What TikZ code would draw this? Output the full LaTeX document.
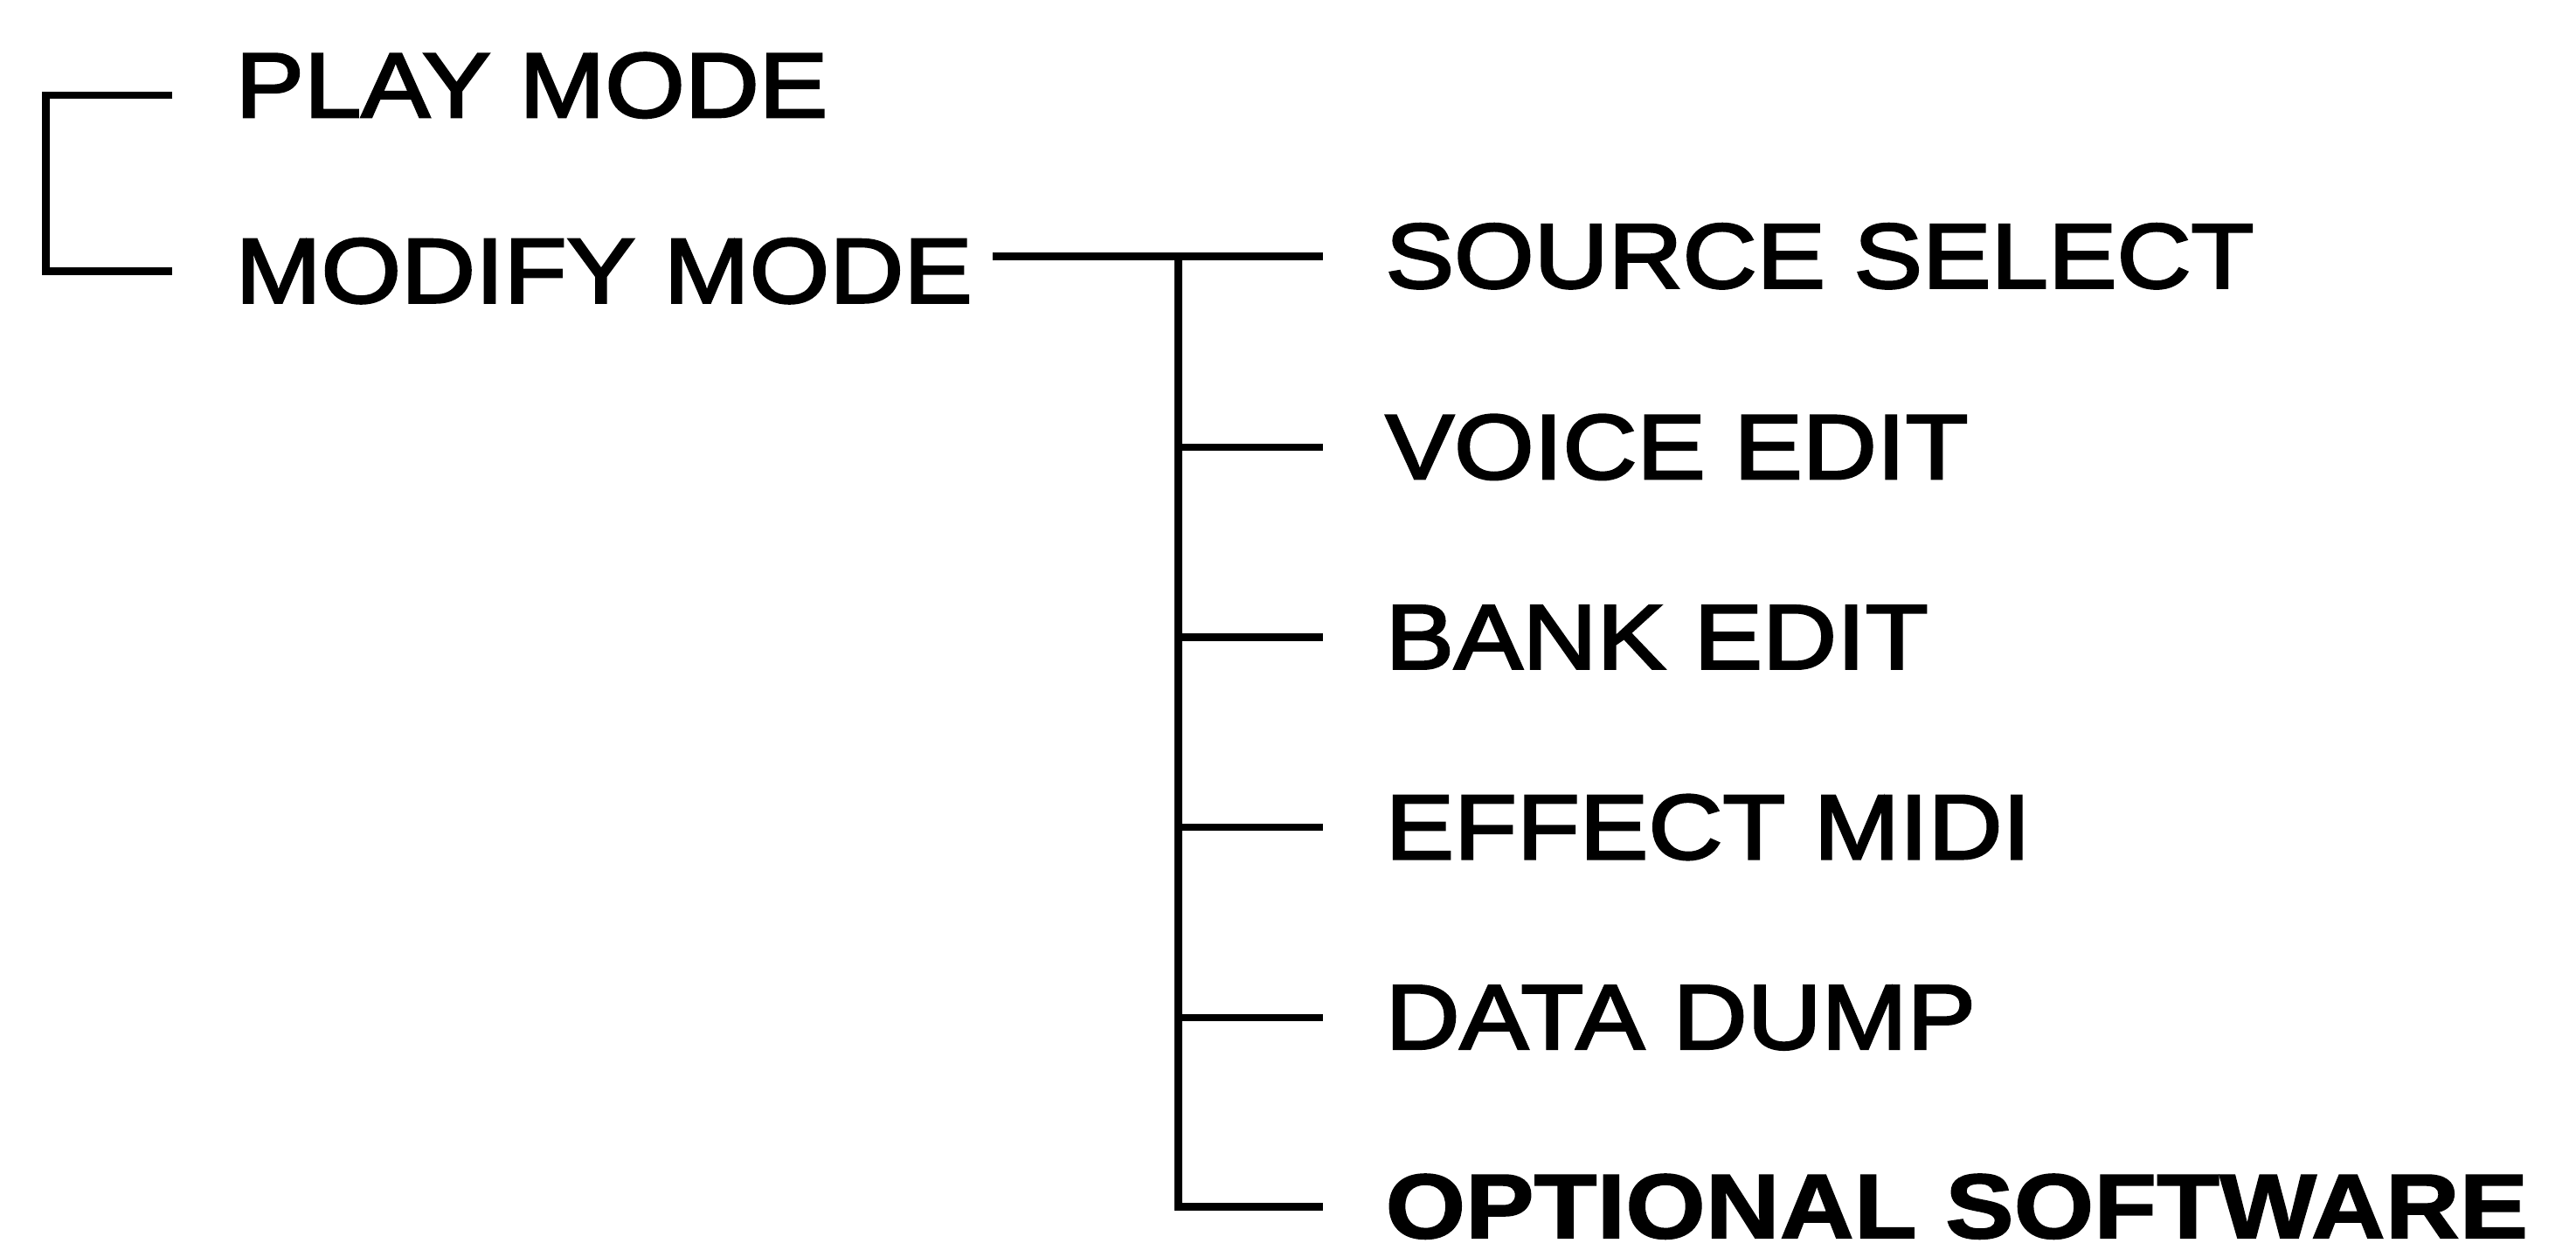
\documentclass[tikz,border=0pt]{standalone}
\usepackage{fontspec}
\setmainfont[FakeStretch=1.12,FakeBold=2.6]{Liberation Sans}
\newfontfamily\heavyfont[FakeStretch=1.12,FakeBold=1.6]{Liberation Sans Bold}
\usepackage{xcolor}
\usepackage{tikz}
\usetikzlibrary{positioning, calc}
\definecolor{mdblack}{HTML}{000000}

\begin{document}
\begin{tikzpicture}[
  node distance=1.52cm,
  modeitem/.style={
    inner sep=0pt, anchor=west, text=mdblack,
    font=\fontsize{31.8}{36}\selectfont
  },
  link/.style={line width=2.6pt, color=mdblack},
]
\useasboundingbox (0,0) rectangle (31.36,-15.22);

\node[modeitem] (play) at (2.86,-1.04) {PLAY MODE};
\node[modeitem] (modify) at (2.86,-3.30) {MODIFY MODE};

\node[modeitem] (src) at (16.86,-3.12) {SOURCE SELECT};
\node[modeitem, below=of src.south west, anchor=north west] (voice) {VOICE EDIT};
\node[modeitem, below=of voice.south west, anchor=north west] (bank) {BANK EDIT};
\node[modeitem, below=of bank.south west, anchor=north west] (effect) {EFFECT MIDI};
\node[modeitem, below=of effect.south west, anchor=north west] (dump) {DATA DUMP};
\node[modeitem, below=1.5cm of dump.south west, anchor=north west,
  font=\fontsize{31.8}{36}\heavyfont] (opt) {OPTIONAL SOFTWARE};

% bracket joining the two modes
\draw[link] ([xshift=-0.76cm,yshift=-0.12cm]play.west) -- ++(-1.54,0)
  |- ([xshift=-0.76cm]modify.west);

% modify mode tree
\coordinate (jn) at ($(modify.east |- src.west)+(2.5,0)$);
\draw[link] ([xshift=0.24cm]modify.east |- src.west) -- ([xshift=-0.76cm]src.west);
\draw[link] (jn) |- ([xshift=-0.76cm]opt.west);
\foreach \n in {voice, bank, effect, dump} {
  \draw[link] (jn |- \n.west) -- ([xshift=-0.76cm]\n.west);
}
\end{tikzpicture}
\end{document}
